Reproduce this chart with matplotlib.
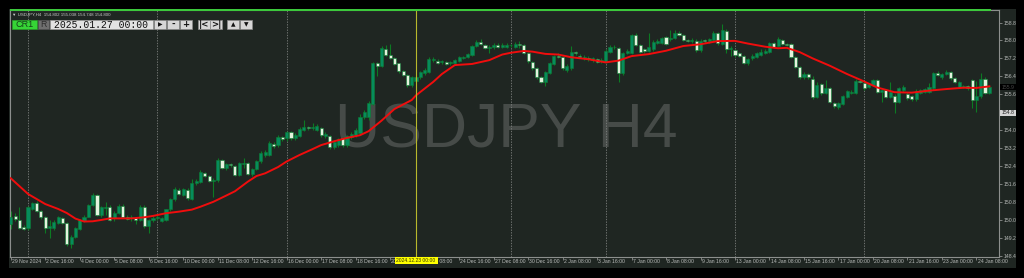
import numpy as np
import matplotlib
matplotlib.use('Agg')
import matplotlib.pyplot as plt
from matplotlib.patches import Rectangle

# USDJPY H4 bars (bar 0 = 29 Nov 08:00)
opens = [149.80, 150.17, 149.99, 149.69, 149.62, 150.50, 150.73, 150.40, 150.11, 149.65,
         149.62, 149.87, 150.06, 149.84, 148.92, 149.24, 149.60, 149.96, 150.14, 150.66,
         151.10, 150.21, 150.52, 150.58, 150.06, 150.31, 150.61, 150.14, 150.08, 150.06,
         149.99, 150.58, 149.72, 149.99, 150.06, 149.96, 150.00, 150.46, 150.91, 151.33,
         151.10, 151.33, 150.93, 151.62, 151.70, 152.10, 151.95, 151.73, 151.77, 152.66,
         152.29, 152.48, 152.40, 152.00, 152.48, 152.52, 152.02, 152.25, 152.63, 152.90,
         152.89, 153.38, 153.33, 153.68, 153.63, 153.90, 153.63, 153.74, 154.00, 154.14,
         154.08, 154.00, 154.10, 153.74, 153.74, 153.26, 153.33, 153.63, 153.33, 153.68,
         153.78, 153.85, 154.57, 154.57, 155.16, 156.98, 156.86, 157.62, 157.35, 157.20,
         156.98, 156.65, 156.46, 156.01, 156.20, 156.35, 156.53, 156.61, 157.13, 157.08,
         157.03, 157.05, 156.98, 157.01, 157.10, 157.22, 157.25, 157.35, 157.75, 157.94,
         157.80, 157.65, 157.69, 157.81, 157.72, 157.72, 157.80, 157.72, 157.84, 157.80,
         157.43, 157.05, 156.76, 156.38, 156.16, 156.56, 156.95, 157.31, 157.25, 156.70,
         156.76, 157.50, 157.31, 157.20, 157.23, 157.13, 157.16, 157.08, 157.05, 157.50,
         157.70, 157.65, 156.56, 157.43, 157.43, 158.24, 157.80, 157.60, 157.54, 157.60,
         157.90, 157.87, 158.14, 158.05, 158.10, 158.32, 158.24, 158.02, 157.99, 157.99,
         157.57, 157.99, 157.99, 158.02, 158.32, 157.84, 158.44, 157.60, 157.57, 157.43,
         157.31, 157.01, 157.20, 157.25, 157.35, 157.43, 157.50, 157.87, 157.75, 158.02,
         157.84, 157.84, 157.25, 156.80, 156.35, 156.50, 156.26, 155.49, 156.06, 155.64,
         155.86, 155.20, 155.02, 155.17, 155.49, 155.64, 155.64, 156.21, 156.12, 155.94,
         156.01, 156.23, 155.71, 155.79, 155.49, 155.52, 155.27, 155.79, 155.61, 155.52,
         155.37, 155.67, 155.71, 155.71, 155.86, 156.56, 156.35, 156.50, 156.60, 156.31,
         155.94, 155.94, 155.97, 156.23, 155.36, 155.50, 156.26, 155.67]
highs = [150.40, 150.30, 150.55, 149.75, 150.60, 150.80, 150.85, 150.45, 150.15, 149.99,
         149.98, 150.15, 150.12, 149.90, 149.30, 149.68, 150.05, 150.20, 150.70, 151.20,
         151.15, 150.60, 150.80, 150.65, 150.40, 150.70, 150.70, 150.20, 150.20, 150.12,
         150.65, 150.65, 150.05, 150.15, 150.20, 150.12, 150.50, 150.95, 151.45, 151.40,
         151.42, 151.40, 151.80, 151.80, 152.20, 152.15, 152.00, 151.85, 152.74, 152.70,
         152.55, 152.55, 152.45, 152.58, 152.74, 152.58, 152.30, 152.68, 153.05, 153.10,
         153.50, 153.45, 153.80, 153.75, 153.95, 153.98, 153.85, 154.12, 154.45, 154.20,
         154.30, 154.25, 154.15, 153.90, 153.80, 153.55, 153.65, 153.70, 153.80, 153.90,
         154.10, 154.70, 154.90, 155.30, 157.05, 157.05, 157.75, 157.80, 157.84, 157.25,
         157.00, 156.70, 156.50, 156.40, 156.45, 156.65, 156.75, 157.25, 157.25, 157.15,
         157.12, 157.10, 157.10, 157.18, 157.30, 157.32, 157.45, 157.80, 158.00, 158.05,
         157.85, 157.78, 157.88, 157.88, 157.90, 157.88, 157.85, 157.95, 157.99, 157.85,
         157.48, 157.10, 156.80, 156.42, 156.65, 157.05, 157.35, 157.43, 157.20, 156.95,
         157.75, 157.55, 157.38, 157.35, 157.30, 157.27, 157.22, 157.20, 157.60, 157.78,
         157.80, 157.72, 157.50, 157.60, 158.30, 158.35, 157.85, 157.65, 158.32, 158.00,
         158.05, 158.15, 158.20, 158.47, 158.45, 158.40, 158.30, 158.08, 158.10, 158.05,
         158.05, 158.05, 158.12, 158.40, 158.38, 158.73, 158.50, 157.75, 157.60, 157.50,
         157.35, 157.20, 157.40, 157.50, 157.60, 157.60, 157.92, 157.92, 158.14, 158.08,
         157.90, 157.88, 157.30, 156.85, 156.60, 156.55, 156.40, 156.16, 156.10, 156.23,
         155.92, 155.25, 155.25, 155.58, 155.80, 155.78, 156.28, 156.30, 156.18, 156.12,
         156.30, 156.28, 155.85, 155.85, 156.16, 155.60, 155.90, 156.00, 155.68, 155.58,
         155.82, 155.85, 155.88, 156.09, 156.60, 156.62, 156.55, 156.68, 156.65, 156.35,
         156.20, 156.02, 156.00, 156.28, 156.20, 156.55, 156.35, 155.97]
lows = [149.60, 149.95, 149.60, 149.55, 149.55, 150.45, 150.35, 150.05, 149.40, 149.17,
        149.55, 149.80, 149.80, 148.85, 148.72, 149.20, 149.55, 149.90, 150.10, 150.60,
        150.15, 150.10, 150.21, 149.95, 149.95, 150.25, 150.10, 149.98, 149.95, 149.80,
        149.95, 149.65, 149.42, 149.90, 150.00, 149.90, 149.95, 150.40, 150.85, 151.10,
        151.05, 150.90, 150.88, 151.55, 151.65, 151.90, 151.68, 151.03, 151.70, 152.25,
        152.20, 152.35, 151.95, 151.95, 152.29, 152.00, 151.95, 152.20, 152.55, 152.80,
        152.85, 153.20, 153.25, 153.50, 153.50, 153.55, 153.55, 153.70, 153.95, 154.00,
        154.00, 153.95, 153.70, 153.65, 153.15, 153.15, 153.25, 153.25, 153.25, 153.60,
        153.70, 153.80, 154.50, 154.45, 155.10, 156.40, 156.80, 157.30, 157.15, 156.90,
        156.55, 156.40, 155.90, 155.90, 156.10, 156.30, 156.45, 156.55, 157.05, 156.95,
        156.95, 156.90, 156.92, 156.95, 157.05, 157.18, 157.20, 157.30, 157.70, 157.80,
        157.62, 157.42, 157.60, 157.65, 157.65, 157.68, 157.70, 157.68, 157.65, 157.38,
        157.00, 156.70, 156.30, 156.10, 155.97, 156.50, 156.90, 157.20, 156.70, 156.60,
        156.70, 157.35, 157.20, 157.12, 157.10, 157.05, 157.00, 157.00, 157.00, 157.45,
        157.60, 156.16, 156.45, 157.38, 157.38, 157.75, 157.45, 157.45, 157.50, 157.55,
        157.85, 157.82, 157.80, 157.99, 158.05, 158.20, 157.98, 157.92, 157.90, 157.50,
        157.50, 157.90, 157.90, 157.98, 157.80, 157.80, 157.45, 157.30, 157.25, 157.25,
        156.95, 156.90, 157.12, 157.20, 157.30, 157.38, 157.45, 157.65, 157.70, 157.80,
        157.75, 157.20, 156.75, 156.30, 156.28, 156.30, 155.40, 155.42, 155.55, 155.60,
        155.20, 154.98, 154.95, 155.10, 155.45, 155.60, 155.60, 156.10, 155.80, 155.88,
        155.95, 155.65, 155.27, 155.42, 155.42, 154.78, 155.20, 155.72, 155.35, 155.30,
        155.30, 155.60, 155.65, 155.65, 155.80, 156.40, 156.30, 156.45, 156.25, 156.10,
        155.88, 155.88, 155.80, 154.97, 154.82, 155.45, 155.60, 155.60]
closes = [150.10, 150.02, 149.65, 149.60, 150.55, 150.73, 150.40, 150.11, 149.65, 149.72,
          149.91, 150.10, 149.84, 148.92, 149.24, 149.63, 149.99, 150.14, 150.66, 151.10,
          150.21, 150.55, 150.58, 150.00, 150.31, 150.61, 150.14, 150.05, 150.12, 149.98,
          150.58, 149.72, 149.99, 150.06, 150.14, 150.06, 150.46, 150.91, 151.36, 151.15,
          151.36, 150.95, 151.62, 151.74, 152.13, 151.95, 151.73, 151.77, 152.66, 152.29,
          152.48, 152.43, 152.00, 152.52, 152.55, 152.04, 152.25, 152.62, 152.99, 153.00,
          153.41, 153.29, 153.71, 153.59, 153.90, 153.63, 153.78, 154.06, 154.15, 154.08,
          154.13, 154.18, 153.78, 153.83, 153.26, 153.48, 153.59, 153.33, 153.74, 153.83,
          154.00, 154.60, 154.82, 155.19, 156.98, 156.86, 157.65, 157.35, 157.20, 156.95,
          156.65, 156.46, 156.01, 156.35, 156.38, 156.61, 156.68, 157.16, 157.17, 157.01,
          157.06, 156.95, 157.05, 157.13, 157.25, 157.26, 157.40, 157.75, 157.94, 157.84,
          157.68, 157.72, 157.81, 157.72, 157.80, 157.80, 157.78, 157.84, 157.80, 157.43,
          157.10, 156.79, 156.38, 156.16, 156.60, 156.98, 157.31, 157.28, 156.76, 156.85,
          157.50, 157.43, 157.25, 157.28, 157.16, 157.20, 157.05, 157.13, 157.54, 157.72,
          157.69, 156.56, 157.43, 157.54, 158.24, 157.80, 157.50, 157.53, 157.72, 157.95,
          157.96, 158.10, 157.84, 158.10, 158.35, 158.24, 158.02, 157.99, 158.00, 157.57,
          157.99, 157.98, 158.05, 158.32, 157.87, 158.47, 157.60, 157.68, 157.35, 157.31,
          157.01, 157.16, 157.30, 157.43, 157.50, 157.53, 157.87, 157.69, 158.05, 157.84,
          157.80, 157.28, 156.80, 156.35, 156.50, 156.38, 155.49, 156.01, 155.64, 155.86,
          155.27, 155.08, 155.20, 155.52, 155.76, 155.71, 156.21, 156.16, 155.86, 156.06,
          156.23, 155.71, 155.79, 155.49, 155.71, 155.27, 155.86, 155.94, 155.42, 155.37,
          155.76, 155.79, 155.82, 155.94, 156.56, 156.46, 156.50, 156.60, 156.31, 156.16,
          156.16, 155.97, 155.86, 155.34, 155.50, 156.26, 155.67, 155.91]

# red moving average, read at these bars
ma_bar = [0, 4, 8, 11, 13, 15, 17, 19, 21, 23, 28, 31, 33, 36, 39, 42, 44, 47, 50, 52,
          55, 57, 59, 62, 64, 67, 70, 72, 75, 78, 81, 83, 86, 89, 93, 94, 96, 98, 100, 103,
          107, 111, 114, 116, 119, 121, 124, 127, 130, 134, 138, 141, 144, 148, 152, 156, 160, 164, 168, 171,
          175, 178, 180, 183, 186, 190, 194, 197, 201, 205, 209, 213, 217, 221, 224, 227]
ma_val = [151.85, 151.15, 150.70, 150.48, 150.30, 150.05, 149.92, 149.93, 149.99, 150.06,
          150.06, 150.11, 150.17, 150.29, 150.36, 150.45, 150.58, 150.80, 151.08, 151.27,
          151.70, 151.95, 152.07, 152.35, 152.60, 152.89, 153.15, 153.33, 153.50, 153.65,
          153.77, 153.95, 154.42, 154.94, 155.34, 155.55, 155.85, 156.15, 156.50, 156.90,
          156.95, 157.12, 157.37, 157.45, 157.53, 157.50, 157.40, 157.37, 157.25, 157.16,
          157.02, 157.10, 157.30, 157.39, 157.54, 157.75, 157.83, 157.97, 157.98, 157.86,
          157.72, 157.65, 157.67, 157.48, 157.20, 156.87, 156.50, 156.25, 155.90, 155.69,
          155.67, 155.76, 155.83, 155.89, 155.88, 155.95]

time_labels = ['29 Nov 2024', '2 Dec 16:00', '4 Dec 00:00', '5 Dec 08:00', '6 Dec 16:00',
               '10 Dec 00:00', '11 Dec 08:00', '12 Dec 16:00', '16 Dec 00:00', '17 Dec 08:00',
               '18 Dec 16:00', '20 Dec 00:00', '23 Dec 08:00', '24 Dec 16:00', '27 Dec 08:00',
               '30 Dec 16:00', '2 Jan 08:00', '3 Jan 16:00', '7 Jan 00:00', '8 Jan 08:00',
               '9 Jan 16:00', '13 Jan 00:00', '14 Jan 08:00', '15 Jan 16:00', '17 Jan 00:00',
               '20 Jan 08:00', '21 Jan 16:00', '23 Jan 00:00', '24 Jan 08:00']
time_label_bars = list(range(0, 232, 8))[:len(time_labels)]
price_ticks = [148.4, 149.2, 150.0, 150.8, 151.6, 152.4, 153.2, 154.0, 154.8, 155.6,
               156.4, 157.2, 158.0, 158.8]
week_bars = [4, 34, 64, 116, 138, 168, 198]
cursor_bar = 94
cursor_price = 154.8
bid_price = 155.9

W, H = 1024, 278
BG = '#1f2622'
AXC = '#8c8f8d'
TXT = '#b9bcba'
SANS = ['Liberation Sans', 'DejaVu Sans']

fig = plt.figure(figsize=(W / 100, H / 100), dpi=100, facecolor='black')


def fx(x):
    return x / W


def fy(y):
    return 1 - y / H


def box(x0, y0, x1, y1, fc, ec='none', lw=0.5, z=2):
    fig.patches.append(Rectangle((fx(x0), fy(y1)), fx(x1 - x0), (y1 - y0) / H,
                                 transform=fig.transFigure, fc=fc, ec=ec, lw=lw, zorder=z))


# chart panel behind the axes
box(8.5, 8.5, 1015.5, 267.5, BG, z=-5)

x_left, x_right, y_top, y_bot = 9.5, 999.0, 10.0, 256.5
ax = fig.add_axes([fx(x_left), fy(y_bot), fx(x_right - x_left), (y_bot - y_top) / H])
ax.set_facecolor(BG)
ax.set_zorder(1)

# price <-> pixel scale: 158.8 at y=22.5, 0.8 per 17.93 px
ppx = 0.8 / 17.93
ax.set_ylim(158.8 - (y_bot - 22.5) * ppx, 158.8 + (22.5 - y_top) * ppx)
bar_px = 4.311
x0_bar = 10.76
ax.set_xlim((x_left - x0_bar) / bar_px, (x_right - x0_bar) / bar_px)

# watermark
ax.text(fx(506), fy(131), 'USDJPY H4', transform=fig.transFigure, ha='center', va='center',
        fontsize=45, color='#464b48', family=SANS, zorder=0.5)

for b in week_bars:
    ax.axvline(b, color='#7d807e', lw=0.6, ls=(0, (1.6, 1.6)), zorder=0.8)

# candles
o = np.array(opens)
c = np.array(closes)
hi = np.array(highs)
lo = np.array(lows)
idx = np.arange(len(o))
bull = c >= o
ax.vlines(idx, lo, hi, color='#0c7a22', lw=0.8, zorder=2)
body_lo = np.minimum(o, c)
body_h = np.maximum(np.abs(c - o), 0.03)
ax.bar(idx[bull], body_h[bull], bottom=body_lo[bull], width=0.72,
       color='#068c5c', edgecolor='#0c7f35', lw=0.4, zorder=3)
ax.bar(idx[~bull], body_h[~bull], bottom=body_lo[~bull], width=0.72,
       color='#e4f3de', edgecolor='#0c7f35', lw=0.4, zorder=3)

ax.plot(ma_bar, ma_val, color='#f00d0d', lw=1.4, zorder=5, solid_joinstyle='round')

ax.axvline(cursor_bar, color='#b8b82c', lw=0.8, zorder=6)

# axes frame
for s in ax.spines.values():
    s.set_color(AXC)
    s.set_linewidth(0.8)
ax.yaxis.tick_right()
ax.set_yticks(price_ticks)
ax.set_yticklabels(['%.1f' % p for p in price_ticks])
ax.tick_params(axis='y', colors=AXC, length=2.2, width=0.6, pad=1.2,
               labelsize=3.7, labelcolor=TXT)
for t in ax.get_yticklabels():
    t.set_family(SANS)
ax.set_xticks(time_label_bars)
ax.set_xticklabels([])
ax.tick_params(axis='x', colors=AXC, length=2.2, width=0.6)
for b, s in zip(time_label_bars, time_labels):
    if abs(b - cursor_bar) < 8:
        continue  # hidden under the cursor date box
    ax.text(b + 0.25, -0.012, s, transform=ax.get_xaxis_transform(), ha='left', va='top',
            fontsize=3.7, color=TXT, family=SANS, clip_on=False)
# the bits of the two covered labels that stick out of the cursor box
ax.text(88.25, -0.012, '20', transform=ax.get_xaxis_transform(), ha='left', va='top',
        fontsize=3.7, color=TXT, family=SANS, clip_on=False)
ax.text(99.0, -0.012, ' 08:00', transform=ax.get_xaxis_transform(), ha='left', va='top',
        fontsize=3.7, color=TXT, family=SANS, clip_on=False)

# green strip along the top
box(9.5, 9.2, 991, 11.2, '#3cc83c', z=3)

# cursor labels
box(395, 256.8, 437.5, 264.2, '#ffff00', z=3)
fig.text(fx(416), fy(260.6), '2024.12.23 00:00', ha='center', va='center', fontsize=3.6,
         color='#303000', family=SANS, zorder=4)
box(1000, 109.6, 1015.5, 115.8, '#d4d4d4', z=3)
fig.text(fx(1002), fy(112.8), '%.1f' % cursor_price, ha='left', va='center', fontsize=3.7,
         color='#202020', family=SANS, zorder=4)
box(1000, 84.4, 1015.5, 90.2, '#000000', z=3)
fig.text(fx(1002), fy(87.3), '%.1f' % bid_price, ha='left', va='center', fontsize=3.7,
         color='#4a4a4a', family=SANS, zorder=4)

# header and one-click panel
fig.text(fx(12.5), fy(14.2), '\u25bc USDJPY,H4  154.802 155.038 154.748 154.800', ha='left',
         va='center', fontsize=3.2, color='#c8c8c8', family=SANS, zorder=4)
MONO = ['Liberation Mono', 'DejaVu Sans Mono']
box(11.5, 19.5, 37, 29.3, '#36d436', ec='#2a9a2a', z=3)
fig.text(fx(24.2), fy(24.5), 'CR1', ha='center', va='center', fontsize=6.6, color='#15401a',
         family=SANS, zorder=4)
box(37.5, 19.5, 49, 29.3, '#6f6f6f', ec='#555555', z=3)
fig.text(fx(43.2), fy(24.5), 'R', ha='center', va='center', fontsize=6.3, color='#2c2c2c',
         family=SANS, zorder=4)
box(49.5, 19.5, 153, 29.3, '#e2e2e2', ec='#9a9a9a', z=3)
fig.text(fx(101.3), fy(24.5), '2025.01.27 00:00', ha='center', va='center', fontsize=7,
         color='#111111', family=MONO, zorder=4)
buttons = [(154, 166, '\u25b6'), (167, 179, '-'), (180, 192, '+'),
           (198, 209.5, '|<'), (210, 222, '>|'), (227, 239, '\u25b2'), (240, 252, '\u25bc')]
for b0, b1, s in buttons:
    box(b0, 19.5, b1, 29.3, '#d6d6d6', ec='#8a8a8a', z=3)
    fs = 4.2 if s in ('\u25b6', '\u25b2', '\u25bc') else 6.2
    fig.text(fx((b0 + b1) / 2), fy(24.5), s, ha='center', va='center', fontsize=fs,
             color='#111111', family=['DejaVu Sans'], zorder=4, weight='bold')

fig.savefig('out.png', dpi=100, facecolor='black')
